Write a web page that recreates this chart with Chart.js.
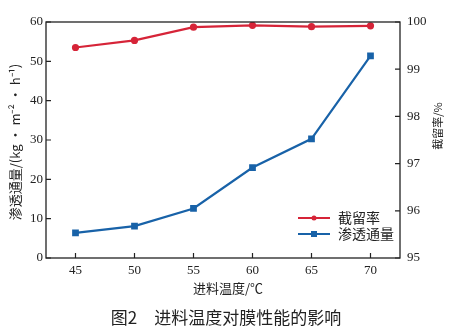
<!DOCTYPE html>
<html><head><meta charset="utf-8">
<script src="https://cdn.jsdelivr.net/npm/chart.js@4.4.0/dist/chart.umd.min.js"></script>
<style>html,body{margin:0;padding:0;background:#fff;}canvas{display:block;}</style>
</head><body>
<canvas id="c" width="458" height="333"></canvas>
<script>
const temps = [45, 50, 55, 60, 65, 70];
const flux = [6.4, 8.1, 12.6, 23.0, 30.3, 51.4];
const rejection = [99.46, 99.61, 99.89, 99.93, 99.90, 99.92];
const leftTicks = [0, 10, 20, 30, 40, 50, 60];
const rightTicks = [95, 96, 97, 98, 99, 100];
const seriesNames = ['截留率', '渗透通量'];
const xTitle = '进料温度/℃';
const yTitle = '渗透通量/(kg · m⁻² · h⁻¹)';
const y1Title = '截留率/%';
const caption = '图2　进料温度对膜性能的影响';

const RED = 'rgb(214,36,56)';
const BLUE = 'rgb(24,98,168)';
const TXT = '#222';
const NUMFONT = '"Liberation Serif", "Noto Sans CJK SC", serif';
const CJK = '"Noto Sans CJK SC", "Liberation Serif", sans-serif';

const deco = {
  id: 'deco',
  afterDraw(chart) {
    const ctx = chart.ctx, a = chart.chartArea;
    const x = chart.scales.x, y = chart.scales.y, y1 = chart.scales.y1;
    ctx.save();
    ctx.strokeStyle = '#222';
    ctx.lineWidth = 1.3;
    ctx.strokeRect(a.left, a.top, a.right - a.left, a.bottom - a.top);
    ctx.lineWidth = 1.2;
    ctx.beginPath();
    temps.forEach(v => { const px = x.getPixelForValue(v); ctx.moveTo(px, a.bottom); ctx.lineTo(px, a.bottom - 5); });
    leftTicks.forEach(v => { const py = y.getPixelForValue(v); ctx.moveTo(a.left, py); ctx.lineTo(a.left + 5, py); });
    rightTicks.forEach(v => { const py = y1.getPixelForValue(v); ctx.moveTo(a.right, py); ctx.lineTo(a.right - 5, py); });
    ctx.stroke();

    // legend
    const ds = chart.data.datasets;
    const lx0 = 298, lx1 = 330, rows = [218, 234];
    ds.forEach((d, i) => {
      const ry = rows[i];
      ctx.strokeStyle = d.borderColor; ctx.lineWidth = 2;
      ctx.beginPath(); ctx.moveTo(lx0, ry); ctx.lineTo(lx1, ry); ctx.stroke();
      ctx.fillStyle = d.borderColor;
      if (d.pointStyle === 'rect') ctx.fillRect((lx0+lx1)/2 - 3, ry - 3, 6, 6);
      else { ctx.beginPath(); ctx.arc((lx0+lx1)/2, ry, 2.5, 0, Math.PI*2); ctx.fill(); }
      ctx.fillStyle = TXT; ctx.font = '14px ' + CJK;
      ctx.textAlign = 'left'; ctx.textBaseline = 'middle';
      ctx.fillText(d.label, 338, ry);
    });

    // titles
    ctx.fillStyle = TXT;
    ctx.textAlign = 'center'; ctx.textBaseline = 'middle';
    ctx.font = '13px ' + CJK;
    ctx.fillText(xTitle, 228, 288);
    ctx.save(); ctx.translate(15, 142); ctx.rotate(-Math.PI/2);
    ctx.font = '13px ' + CJK; ctx.fillText(yTitle, 0, 0); ctx.restore();
    ctx.save(); ctx.translate(438, 126); ctx.rotate(-Math.PI/2);
    ctx.font = '11px ' + CJK; ctx.fillText(y1Title, 0, 0); ctx.restore();
    ctx.font = '17px ' + CJK;
    ctx.fillText(caption, 226, 318);
    ctx.restore();
  }
};

new Chart(document.getElementById('c'), {
  type: 'line',
  data: {
    datasets: [
      { label: seriesNames[0], data: temps.map((t, i) => ({x: t, y: rejection[i]})), yAxisID: 'y1',
        borderColor: RED, backgroundColor: RED, borderWidth: 2.2, pointStyle: 'circle', pointRadius: 2.5, tension: 0 },
      { label: seriesNames[1], data: temps.map((t, i) => ({x: t, y: flux[i]})), yAxisID: 'y',
        borderColor: BLUE, backgroundColor: BLUE, borderWidth: 2.2, pointStyle: 'rect', pointRadius: 3.2, tension: 0 }
    ]
  },
  options: {
    responsive: false, animation: false,
    layout: { padding: { top: 22, left: 0, right: 0, bottom: 0 } },
    plugins: { legend: { display: false }, tooltip: { enabled: false } },
    scales: {
      x: { type: 'linear', min: 42.5, max: 72.5,
        afterBuildTicks: s => { s.ticks = temps.map(v => ({value: v})); },
        afterFit: s => { s.height = 75; },
        grid: { display: false, drawTicks: false }, border: { display: false },
        ticks: { padding: 5, color: TXT, font: { family: NUMFONT, size: 13 }, maxRotation: 0 } },
      y: { position: 'left', min: 0, max: 60,
        afterBuildTicks: s => { s.ticks = leftTicks.map(v => ({value: v})); },
        afterFit: s => { s.width = 46; },
        grid: { display: false, drawTicks: false }, border: { display: false },
        ticks: { padding: 3, color: TXT, font: { family: NUMFONT, size: 13 } } },
      y1: { position: 'right', min: 95, max: 100,
        afterBuildTicks: s => { s.ticks = rightTicks.map(v => ({value: v})); },
        afterFit: s => { s.width = 58; },
        grid: { display: false, drawTicks: false }, border: { display: false },
        ticks: { padding: 7, color: TXT, font: { family: NUMFONT, size: 13 } } }
    }
  },
  plugins: [deco]
});
</script>
</body></html>
